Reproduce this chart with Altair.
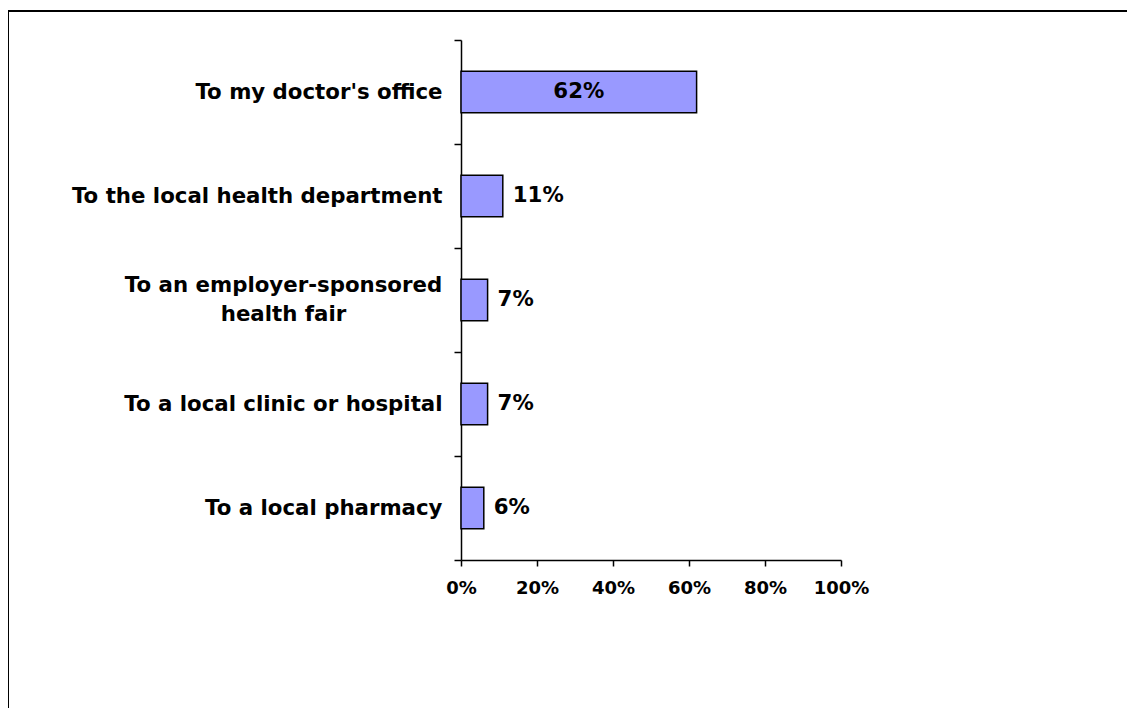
import altair as alt
import pandas as pd

categories = [
    "To my doctor's office",
    "To the local health department",
    "To an employer-sponsored|health fair",
    "To a local clinic or hospital",
    "To a local pharmacy",
]
values = [0.62, 0.11, 0.07, 0.07, 0.06]
label_inside = [True, False, False, False, False]
x_ticks = [0, 0.2, 0.4, 0.6, 0.8, 1.0]

df = pd.DataFrame({"category": categories, "value": values, "inside": label_inside})

FONT = "DejaVu Sans"

y_scale = alt.Scale(paddingInner=0, paddingOuter=0)

y_main = alt.Y(
    "category:N",
    sort=categories,
    scale=y_scale,
    axis=alt.Axis(
        title=None,
        tickBand="extent",
        tickSize=7,
        tickColor="black",
        tickWidth=1.5,
        domainColor="black",
        domainWidth=1.5,
        labelFont=FONT,
        labelFontWeight="bold",
        labelFontSize=21.3,
        labelColor="black",
        labelPadding=12,
        labelLimit=700,
        labelExpr="indexof(datum.label, '|') >= 0 ? '' : datum.label",
    ),
)

y_multi = alt.Y(
    "category:N",
    sort=categories,
    scale=y_scale,
    axis=alt.Axis(
        title=None,
        orient="left",
        domain=False,
        ticks=False,
        tickSize=0,
        labelFont=FONT,
        labelFontWeight="bold",
        labelFontSize=21.3,
        labelColor="black",
        labelAlign="center",
        labelPadding=178,
        labelOffset=-14,
        labelLimit=700,
        labelLineHeight=29,
        labelExpr="indexof(datum.label, '|') >= 0 ? split(datum.label, '|') : ''",
    ),
)

x_enc = alt.X(
    "value:Q",
    scale=alt.Scale(domain=[0, 1], nice=False),
    axis=alt.Axis(
        title=None,
        values=x_ticks,
        format=".0%",
        grid=False,
        tickSize=6,
        tickColor="black",
        tickWidth=1.5,
        domainColor="black",
        domainWidth=1.5,
        labelFont=FONT,
        labelFontWeight="bold",
        labelFontSize=18,
        labelColor="black",
        labelPadding=13,
        labelOverlap=False,
        labelFlush=False,
    ),
)

base = alt.Chart(df)

frame = alt.Chart(pd.DataFrame({"k": [0]})).mark_rect(
    fillOpacity=0, stroke="black", strokeWidth=2
).encode(
    x=alt.value(-453), y=alt.value(-29), x2=alt.value(1300), y2=alt.value(1000)
)

bars = base.mark_bar(
    fill="#9999ff", stroke="black", strokeWidth=1.5, height=alt.RelativeBandSize(band=0.4)
).encode(x=x_enc, y=y_main)

out_labels = base.transform_filter("!datum.inside").mark_text(
    align="left", baseline="middle", dx=10, font=FONT, fontSize=21.3, fontWeight="bold", color="black"
).encode(
    x="value:Q",
    y=y_multi,
    text=alt.Text("value:Q", format=".0%"),
)

in_labels = base.transform_filter("datum.inside").transform_calculate(
    mid="datum.value / 2"
).mark_text(
    align="center", baseline="middle", font=FONT, fontSize=21.3, fontWeight="bold", color="black"
).encode(
    x="mid:Q",
    y=alt.Y("category:N", sort=categories, scale=y_scale, axis=None),
    text=alt.Text("value:Q", format=".0%"),
)

chart = alt.layer(frame, bars, out_labels, in_labels).resolve_axis(y="independent").properties(
    width=380,
    height=520,
    padding={"left": 453, "top": 32, "right": 286, "bottom": 148},
    autosize=alt.AutoSizeParams(type="none"),
    background="white",
).configure_view(stroke=None)

chart.save("out.html", embed_options={"renderer": "svg", "actions": False})
